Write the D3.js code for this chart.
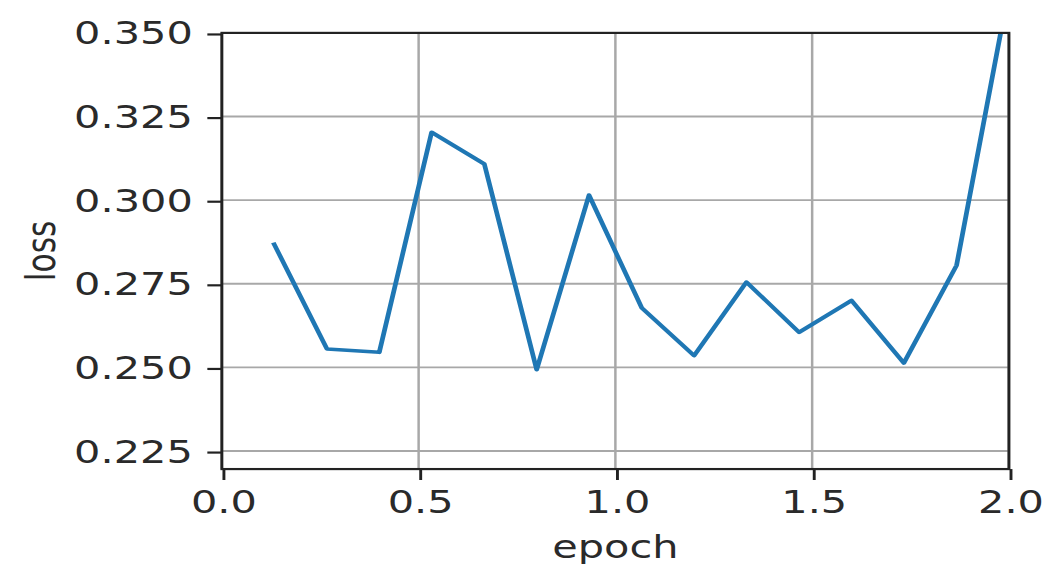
<!DOCTYPE html>
<html>
<head>
<meta charset="utf-8">
<script src="https://cdn.jsdelivr.net/npm/d3@7"></script>
<style>
  html, body { margin: 0; padding: 0; background: #fff; }
  svg { display: block; }
  text { font-family: "DejaVu Sans", sans-serif; fill: #2a2a2a; }
</style>
</head>
<body>
<div id="chart"></div>
<script>
// data
const epochs = [0.133, 0.267, 0.4, 0.533, 0.667, 0.8, 0.933, 1.067, 1.2, 1.333, 1.467, 1.6, 1.733, 1.867, 2.0];
const loss = [0.2868, 0.2555, 0.2545, 0.3203, 0.3108, 0.2493, 0.3015, 0.2678, 0.2535, 0.2755, 0.2605, 0.2700, 0.2513, 0.2805, 0.363];
const xTicks = [0.0, 0.5, 1.0, 1.5, 2.0];
const yTicks = [0.225, 0.250, 0.275, 0.300, 0.325, 0.350];

// the figure is drawn in points (3.5in x 2.5in) and stretched to the window
const W = 1045, H = 564;
const VW = 252, VH = 180;
const margin = { left: 53.5, right: 8.7, top: 10.5, bottom: 30.3 };
const innerW = VW - margin.left - margin.right;
const innerH = VH - margin.top - margin.bottom;
const BLUE = '#1f77b4';
const GRID = '#a8a8a8';

const svg = d3.select('#chart').append('svg')
  .attr('width', W)
  .attr('height', H)
  .attr('viewBox', `0 0 ${VW} ${VH}`)
  .attr('preserveAspectRatio', 'none');

const x = d3.scaleLinear().domain([0, 2]).range([0, innerW]);
const y = d3.scaleLinear().domain([0.2196, 0.35]).range([innerH, 0]);

const g = svg.append('g').attr('transform', `translate(${margin.left},${margin.top})`);

svg.append('defs').append('clipPath').attr('id', 'plot-clip')
  .append('rect').attr('width', innerW).attr('height', innerH);

// grid
g.append('g').selectAll('line')
  .data(xTicks)
  .enter().append('line')
  .attr('x1', d => x(d)).attr('x2', d => x(d))
  .attr('y1', 0).attr('y2', innerH)
  .attr('stroke', GRID).attr('stroke-width', 0.6);

g.append('g').selectAll('line')
  .data(yTicks)
  .enter().append('line')
  .attr('x1', 0).attr('x2', innerW)
  .attr('y1', d => y(d)).attr('y2', d => y(d))
  .attr('stroke', GRID).attr('stroke-width', 0.6);

// loss line
const line = d3.line().x((d, i) => x(epochs[i])).y(d => y(d));
g.append('path')
  .datum(loss)
  .attr('clip-path', 'url(#plot-clip)')
  .attr('d', line)
  .attr('fill', 'none')
  .attr('stroke', BLUE)
  .attr('stroke-width', 1.15)
  .attr('stroke-linejoin', 'round')
  .attr('stroke-linecap', 'square');

// axes
const xAxis = d3.axisBottom(x).tickValues(xTicks).tickFormat(d3.format('.1f'))
  .tickSize(3.5).tickPadding(3.5).tickSizeOuter(0);
const yAxis = d3.axisLeft(y).tickValues(yTicks).tickFormat(d3.format('.3f'))
  .tickSize(3.5).tickPadding(3.5).tickSizeOuter(0);

const gx = g.append('g').attr('transform', `translate(0,${innerH})`).call(xAxis);
const gy = g.append('g').call(yAxis);

[gx, gy].forEach(a => {
  a.select('.domain').remove();
  a.selectAll('.tick line').attr('stroke', '#222').attr('stroke-width', 0.7);
  a.selectAll('.tick text').attr('font-size', 10).style('font-family', '"DejaVu Sans", sans-serif').attr('fill', '#2a2a2a');
});

// spines
g.append('rect')
  .attr('width', innerW).attr('height', innerH)
  .attr('fill', 'none').attr('stroke', '#222').attr('stroke-width', 0.7);

// labels
svg.append('text')
  .attr('x', margin.left + innerW / 2)
  .attr('y', 178)
  .attr('text-anchor', 'middle')
  .attr('font-size', 10)
  .text('epoch');

svg.append('text')
  .attr('transform', `translate(13.3,${margin.top + innerH / 2}) rotate(-90)`)
  .attr('text-anchor', 'middle')
  .attr('font-size', 10)
  .text('loss');
</script>
</body>
</html>
